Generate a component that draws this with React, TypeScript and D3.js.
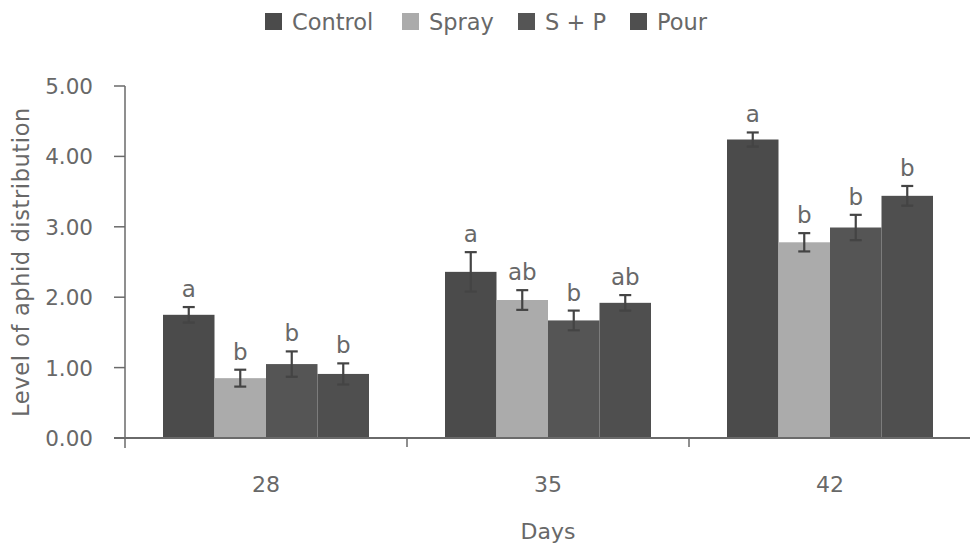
import * as d3 from "d3";
import React from "react";

const days = ["28", "35", "42"];
const treatments = ["Control", "Spray", "S + P", "Pour"];
const colors = ["#4b4b4b", "#ababab", "#555555", "#4f4f4f"];

const meanValues = [
  [1.75, 0.85, 1.05, 0.91],
  [2.36, 1.96, 1.67, 1.92],
  [4.24, 2.78, 2.99, 3.44],
];
const errValues = [
  [0.11, 0.12, 0.18, 0.15],
  [0.28, 0.14, 0.14, 0.11],
  [0.1, 0.13, 0.18, 0.14],
];
const letters = [
  ["a", "b", "b", "b"],
  ["a", "ab", "b", "ab"],
  ["a", "b", "b", "b"],
];
const yTicks = [0, 1, 2, 3, 4, 5];

const FONT = "'DejaVu Sans', sans-serif";
const TEXT = "#686868";
const AXIS = "#6a6a6a";

export default function App() {
  const width = 970;
  const height = 544;

  const x = d3.scaleBand().domain(days).range([125, 971]);
  const inner = d3
    .scaleBand()
    .domain(treatments)
    .range([0, x.bandwidth()])
    .paddingOuter(0.738);
  const y = d3.scaleLinear().domain([0, 5]).range([438, 86]);

  const legendX = [265, 402, 518, 630];

  const txt = { fontFamily: FONT, fill: TEXT };

  return (
    <div style={{ position: "absolute", left: 0, top: 0 }}>
      <svg width={width} height={height} style={{ display: "block", background: "#fff" }}>
        {/* Legend */}
        {treatments.map((t, i) => (
          <g key={t}>
            <rect x={legendX[i]} y={13} width={17} height={17} fill={colors[i]} />
            <text x={legendX[i] + 27} y={30} fontSize={22.5} {...txt}>
              {t}
            </text>
          </g>
        ))}

        {/* Bars */}
        {days.map((d, gi) => (
          <g key={d} transform={`translate(${x(d)},0)`}>
            {treatments.map((t, si) => {
              const v = meanValues[gi][si];
              const e = errValues[gi][si];
              const bx = inner(t)!;
              const cx = bx + inner.bandwidth() / 2;
              return (
                <g key={t}>
                  <rect
                    x={bx}
                    y={y(v)}
                    width={inner.bandwidth()}
                    height={y(0) - y(v)}
                    fill={colors[si]}
                  />
                  <line x1={cx} x2={cx} y1={y(v + e)} y2={y(v - e)} stroke="#444" strokeWidth={2.2} />
                  <line x1={cx - 6} x2={cx + 6} y1={y(v + e)} y2={y(v + e)} stroke="#444" strokeWidth={2.2} />
                  <line x1={cx - 6} x2={cx + 6} y1={y(v - e)} y2={y(v - e)} stroke="#444" strokeWidth={2.2} />
                  <text x={cx} y={y(v + e) - 10} textAnchor="middle" fontSize={23} {...txt}>
                    {letters[gi][si]}
                  </text>
                </g>
              );
            })}
          </g>
        ))}

        {/* Y axis */}
        <line x1={125} x2={125} y1={y(5)} y2={448} stroke={AXIS} strokeWidth={1.5} />
        {yTicks.map((t) => (
          <g key={t}>
            <line x1={114} x2={125} y1={y(t)} y2={y(t)} stroke={AXIS} strokeWidth={1.5} />
            <text x={93} y={y(t) + 8} textAnchor="end" fontSize={21.5} {...txt}>
              {t.toFixed(2)}
            </text>
          </g>
        ))}
        <text
          transform={`translate(29,${(y(5) + y(0)) / 2}) rotate(-90)`}
          textAnchor="middle"
          fontSize={22.5}
          letterSpacing={0.6}
          {...txt}
        >
          Level of aphid distribution
        </text>

        {/* X axis */}
        <line x1={114} x2={970} y1={y(0)} y2={y(0)} stroke={AXIS} strokeWidth={2} />
        {days.slice(1).map((d) => (
          <line key={d} x1={x(d)} x2={x(d)} y1={y(0)} y2={447} stroke={AXIS} strokeWidth={1.5} />
        ))}
        {days.map((d) => (
          <text
            key={d}
            x={x(d)! + x.bandwidth() / 2}
            y={492}
            textAnchor="middle"
            fontSize={22}
            {...txt}
          >
            {d}
          </text>
        ))}
        <text x={548} y={539} textAnchor="middle" fontSize={22} {...txt}>
          Days
        </text>
      </svg>
    </div>
  );
}
